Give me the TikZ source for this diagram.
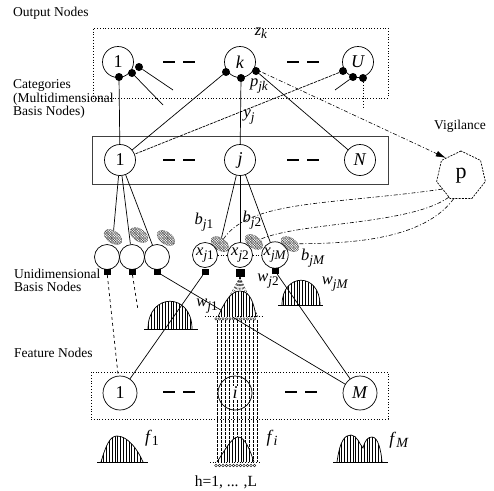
\documentclass[tikz,border=0pt]{standalone}
\usepackage{fontspec}
\setmainfont{Liberation Serif}
\usetikzlibrary{shapes.geometric,patterns,patterns.meta,arrows.meta}
\newcommand{\vsub}[2]{\textit{#1}\raisebox{-0.45ex}{\scalebox{0.8}{#2}}}
\begin{document}
\begin{tikzpicture}[x=1pt,y=-1pt,
  ln/.style={line width=0.7pt},
  big/.style={circle,draw,line width=0.7pt,minimum size=31pt,inner sep=0pt,font=\fontsize{18}{18}\selectfont},
  feat/.style={big,minimum size=34pt},
  uni/.style={circle,draw,line width=0.7pt,minimum size=25pt,inner sep=0pt,font=\fontsize{16.5}{16}\selectfont},
  dot/.style={circle,fill=black,inner sep=0pt,minimum size=8pt},
  sq/.style={rectangle,fill=black,inner sep=0pt,minimum width=7pt,minimum height=6pt},
  blob/.style={ellipse,draw=black!80,densely dotted,line width=0.5pt,pattern={Lines[angle=45,distance=1.8pt,line width=0.45pt]},pattern color=black!80,minimum width=20pt,minimum height=12pt,inner sep=0pt,rotate=-35},
  blobx/.style={ellipse,pattern={Lines[angle=-45,distance=1.8pt,line width=0.45pt]},pattern color=black!80,minimum width=20pt,minimum height=12pt,inner sep=0pt,rotate=-35},
  side/.style={font=\fontsize{13.5}{10.5}\selectfont,align=left,anchor=west,inner sep=0pt},
  lbl/.style={font=\fontsize{16.5}{16}\selectfont,inner sep=0pt},
  grp/.style={draw,dotted,line width=0.8pt,inner sep=0pt},
  dashes/.style={line width=2.6pt,dash pattern=on 12pt off 8pt},
  hatch/.style={pattern={Lines[angle=90,distance=2.8pt,line width=0.6pt]}},
  pd/.style={line width=0.6pt,dash pattern=on 4pt off 2pt on 1pt off 2pt},
  stripe/.style={line width=0.4pt,dash pattern=on 2.5pt off 1.5pt},
  ring/.style={line width=0.35pt}
]
\useasboundingbox (0,0) rectangle (494,490);

% side labels
\node[side] (tout) at (13,13) {Output Nodes};
\node[side] (tcat) at (13,99) {Categories\\(Multidimensional\\Basis Nodes)};
\node[side,font=\fontsize{13.5}{13}\selectfont] (tuni) at (14,280) {Unidimensional\\Basis Nodes};
\node[side] (tfeat) at (14,353) {Feature Nodes};
\node[font=\fontsize{13.5}{13}\selectfont,inner sep=0pt] (tvig) at (460,126) {Vigilance};

% group boxes
\node[grp,minimum width=295pt,minimum height=70pt] (obox) at (240.5,63) {};
\node[draw=black!75,line width=0.7pt,minimum width=296pt,minimum height=48pt,inner sep=0pt] (cbox) at (240,160) {};
\node[grp,minimum width=297pt,minimum height=47pt] (fbox) at (239.5,395.5) {};

% output nodes
\node[big] (o1) at (118,62) {1};
\node[big] (ok) at (240,62) {\textit{k}};
\node[big] (oU) at (358,62) {\textit{U}};
\draw[dashes] (163,62) -- (196,62);
\draw[dashes] (287,62) -- (320,62);

% category nodes
\node[big] (c1) at (120,160) {1};
\node[big] (cj) at (240,160) {\textit{j}};
\node[big] (cN) at (360,160) {\textit{N}};
\draw[dashes] (163,160) -- (196,160);
\draw[dashes] (287,160) -- (320,160);

% feature stripe (behind feature nodes)
\foreach \x in {217,221,...,257} \draw[stripe] (\x,320) -- (\x,462);

% feature nodes
\node[feat] (f1) at (120,393) {1};
\node[feat] (fi) at (235,393) {\setlength{\fboxsep}{0.6pt}\colorbox{white}{\textit{i}}};
\node[feat] (fM) at (360,393) {\textit{M}};
\draw[dashes] (163,392) -- (196,392);
\draw[dashes] (285,392) -- (318,392);

% vigilance node
\node[draw,regular polygon,regular polygon sides=7,minimum size=50pt,inner sep=0pt,line width=0.7pt,dash pattern=on 2pt off 1.2pt,font=\fontsize{22}{22}\selectfont] (p) at (461,176) {p};

% output dots
\node[dot] (d1a) at (119,77) {};
\node[dot] (d1b) at (132,73) {};
\node[dot] (d1c) at (139,67) {};
\node[dot] (dka) at (226,72) {};
\node[dot] (dkb) at (241,78) {};
\node[dot] (dkc) at (256,71) {};
\node[dot] (dua) at (343,71) {};
\node[dot] (dub) at (353,77) {};
\node[dot] (duc) at (363,78) {};
\coordinate (e1b) at (163,105);
\coordinate (e1c) at (173,90);
\coordinate (eub) at (335,90);
\coordinate (euc) at (363,108);

\draw[ln] (d1a) -- (c1);
\draw[ln] (d1b) -- (e1b);
\draw[ln] (d1c) -- (e1c);
\draw[ln] (dka) -- (c1);
\draw[ln] (dkb) -- (cj);
\draw[ln] (dkc) -- (cN);
\draw[ln,dash pattern=on 3pt off 1pt] (dua) -- (c1);
\draw[ln] (dub) -- (eub);
\draw[ln,dotted] (duc) -- (euc);

\node[lbl] (zk) at (261,33) {\vsub{z}{\textit{k}}};
\node[lbl] (pjk) at (259,86) {\vsub{p}{\textit{jk}}};
\node[lbl] (yj) at (249,117) {\vsub{y}{\textit{j}}};

% vigilance arrow
\draw[pd,-{Latex[length=10pt,width=6pt]}] (ok.-25) -- (p.130);

% unidimensional basis nodes
\node[uni] (u1) at (107,257) {};
\node[uni] (u2) at (132,257) {};
\node[uni] (u3) at (157,257) {};
\node[uni] (xa) at (205,255) {\vsub{x}{\textit{j}1}};
\node[uni] (xb) at (240,255) {\vsub{x}{\textit{j}2}};
\node[uni] (xc) at (275,255) {\vsub{x}{\textit{jM}}};
\draw[ln,dotted] (xa) -- (xb);
\draw[ln,dotted] (xb) -- (xc);

\node[sq] (s1) at (107,272) {};
\node[sq] (s2) at (132,272) {};
\node[sq] (s3) at (157,272) {};
\node[sq] (sa) at (205,272) {};
\node[sq,minimum width=9pt,minimum height=8pt] (sb) at (240,273) {};
\node[sq] (sc) at (275,271) {};

\foreach \p in {{113,237},{139,235},{166,238},{220,244},{254,242},{290,244}}
  \node[blobx] at (\p) {};
\node[blob] (bl1) at (113,237) {};
\node[blob] (bl2) at (139,235) {};
\node[blob] (bl3) at (166,238) {};
\node[blob] (ba) at (220,244) {};
\node[blob] (bb) at (254,242) {};
\node[blob] (bc) at (290,244) {};

\draw[ln] (c1) -- (bl1);
\draw[ln] (c1) -- (u2);
\draw[ln] (c1) -- (u3);
\draw[ln] (cj) -- (ba);
\draw[ln] (cj) -- (xb);
\draw[ln] (cj) -- (xc);

\node[lbl] (bj1) at (204,222) {\vsub{b}{\textit{j}1}};
\node[lbl] (bj2) at (252,220) {\vsub{b}{\textit{j}2}};
\node[lbl] (bjM) at (313,258) {\vsub{b}{\textit{jM}}};

% vigilance to weights
\draw[pd] (p.215) .. controls (330,205) and (250,200) .. (ba);
\draw[pd] (p.240) .. controls (410,225) and (300,222) .. (bb);
\draw[pd] (p.252) .. controls (420,245) and (330,243) .. (bc);

% connections to feature nodes
\coordinate (e2) at (138,310);
\draw[ln,dashed] (s1) -- (f1);
\draw[ln,dashed] (s2) -- (e2);
\draw[ln] (s3) -- (fM);
\draw[ln] (sa) -- (f1);
\draw[ln] (sc) -- (fM);

% fan from x_j2
\foreach \x in {218,223,...,258} \draw[line width=0.4pt,dash pattern=on 2pt off 1.5pt] (sb.south) -- (\x,317);

% bumps
\fill[hatch] (148,329) .. controls (148,292) and (192,292) .. (192,329) -- cycle;
\draw[ln] (148,329) .. controls (148,292) and (192,292) .. (192,329);
\draw[ln] (144,329) -- (198,329);

\fill[hatch] (282,305) .. controls (282,272) and (320,272) .. (320,305) -- cycle;
\draw[ln] (282,305) .. controls (282,272) and (320,272) .. (320,305);
\draw[ln] (278,305) -- (323,305);

\fill[white] (218,317) .. controls (225,300) and (232,291) .. (240,291) .. controls (250,291) and (254,303) .. (256,317) -- cycle;
\fill[hatch] (218,317) .. controls (225,300) and (232,291) .. (240,291) .. controls (250,291) and (254,303) .. (256,317) -- cycle;
\draw[ln] (218,317) .. controls (225,300) and (232,291) .. (240,291) .. controls (250,291) and (254,303) .. (256,317);
\draw[ln,dotted] (205,316) -- (262,316);
\foreach \x in {216,219.5,...,257} \draw[ring] (\x,318.8) circle (1.3);

\fill[hatch] (101,462) .. controls (106,445) and (110,436) .. (117,436) .. controls (128,436) and (138,450) .. (143,462) -- cycle;
\draw[ln] (101,462) .. controls (106,445) and (110,436) .. (117,436) .. controls (128,436) and (138,450) .. (143,462);
\draw[ln] (97,462) -- (148,462);

\fill[white] (217,462) .. controls (225,450) and (232,437) .. (238,437) .. controls (245,437) and (250,450) .. (254,462) -- cycle;
\fill[hatch] (217,462) .. controls (225,450) and (232,437) .. (238,437) .. controls (245,437) and (250,450) .. (254,462) -- cycle;
\draw[ln] (217,462) .. controls (225,450) and (232,437) .. (238,437) .. controls (245,437) and (250,450) .. (254,462);
\draw[ln,dotted] (210,462) -- (260,462);
\foreach \x in {216,219.5,...,257} \draw[ring] (\x,465.5) circle (1.3);

\fill[hatch] (337,462) .. controls (340,440) and (345,435) .. (351,435) .. controls (357,435) and (360,445) .. (363,448) .. controls (365,440) and (368,437) .. (372,437) .. controls (378,437) and (381,450) .. (382,462) -- cycle;
\draw[ln] (337,462) .. controls (340,440) and (345,435) .. (351,435) .. controls (357,435) and (360,445) .. (363,448) .. controls (365,440) and (368,437) .. (372,437) .. controls (378,437) and (381,450) .. (382,462);
\draw[ln] (333,462) -- (388,462);

% weight / feature labels
\node[lbl] (wj1) at (207,306) {\vsub{w}{\textit{j}1}};
\node[lbl] (wj2) at (268,281) {\vsub{w}{\textit{j}2}};
\node[lbl] (wjM) at (335,284) {\vsub{w}{\textit{jM}}};
\node[lbl,font=\fontsize{17.5}{17}\selectfont] (lf1) at (152,438) {\vsub{f}{1}};
\node[lbl,font=\fontsize{17.5}{17}\selectfont] (lfi) at (272,438) {\vsub{f}{\textit{i}}};
\node[lbl,font=\fontsize{17.5}{17}\selectfont] (lfM) at (399,440) {\vsub{f}{\textit{M}}};
\node[font=\fontsize{15.5}{15}\selectfont,inner sep=0pt] (hl) at (226,482) {h=1, ... ,L};
\end{tikzpicture}
\end{document}
